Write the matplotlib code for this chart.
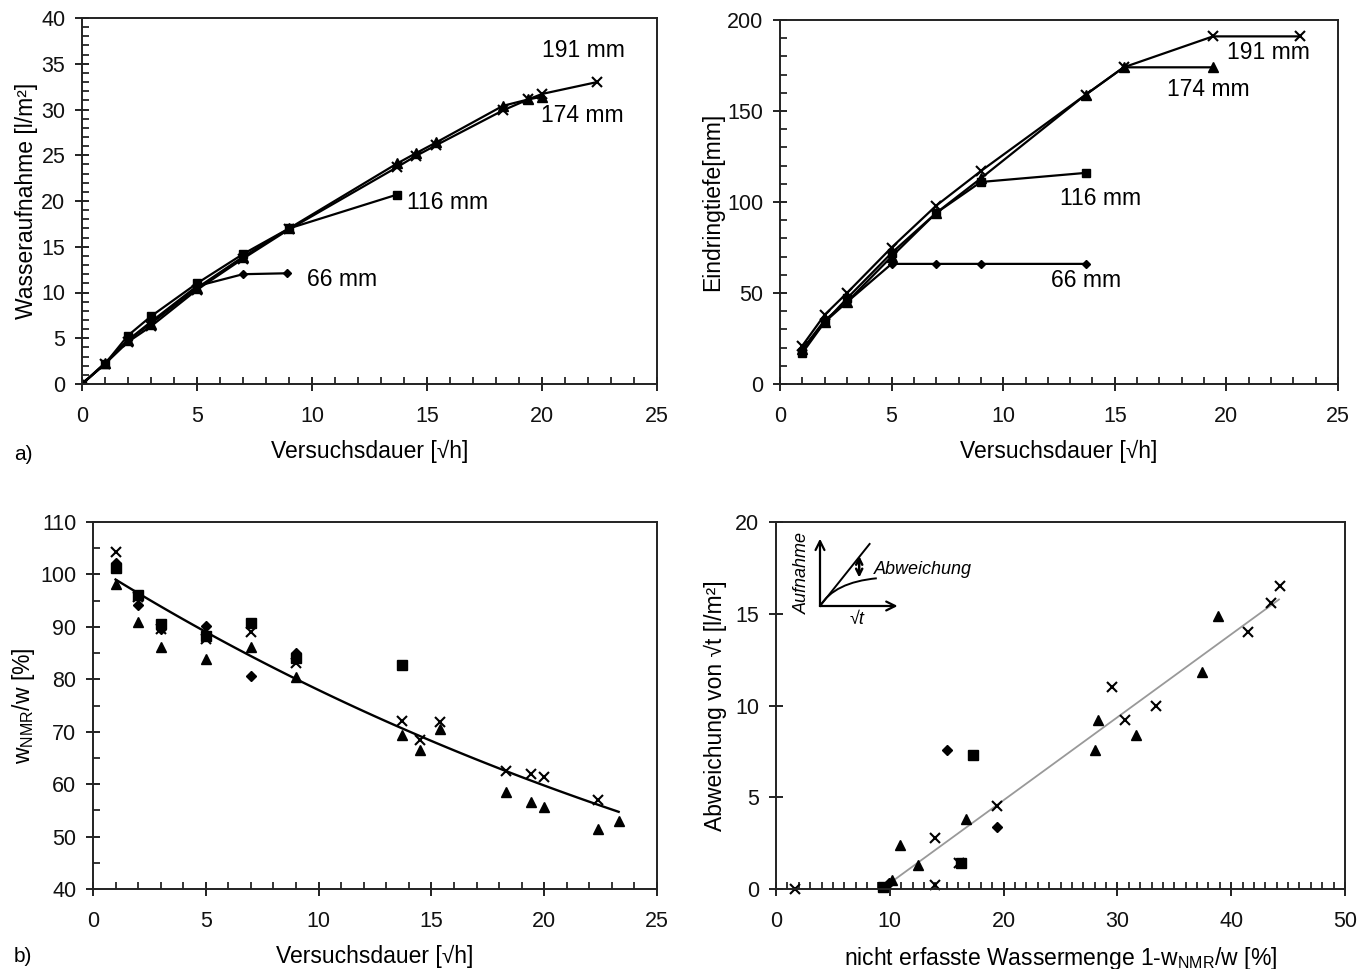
import numpy as np
import matplotlib
matplotlib.use("Agg")
import matplotlib.pyplot as plt
from matplotlib.ticker import MultipleLocator
from matplotlib.path import Path
from matplotlib.patches import PathPatch

plt.rcParams['font.family'] = ['Liberation Sans', 'DejaVu Sans']
plt.rcParams['mathtext.fontset'] = 'custom'
plt.rcParams['mathtext.rm'] = 'Liberation Sans'
plt.rcParams['mathtext.it'] = 'Liberation Sans:italic'

# --- a) links: Wasseraufnahme ueber Versuchsdauer ---
t_66 = [0, 1, 2, 3, 5, 7, 8.9]
w_66 = [0, 2.2, 4.8, 6.8, 10.7, 12.0, 12.1]
t_116 = [0, 1, 2, 3, 5, 7, 9, 13.7]
w_116 = [0, 2.2, 5.3, 7.4, 11.0, 14.2, 17.0, 20.7]
t_174 = [0, 1, 2, 3, 5, 7, 9, 13.7, 14.5, 15.4, 18.3, 19.4, 20]
w_174 = [0, 2.3, 4.8, 6.6, 10.5, 13.9, 17.0, 24.1, 25.2, 26.4, 30.4, 31.1, 31.4]
t_191 = [0, 1, 2, 3, 5, 7, 9, 13.7, 14.5, 15.4, 18.3, 19.4, 20, 22.4]
w_191 = [0, 2.2, 4.6, 6.3, 10.3, 13.7, 16.9, 23.7, 24.9, 26.1, 29.9, 31.1, 31.7, 33.0]

# --- a) rechts: Eindringtiefe ---
d_t_66 = [1, 2, 3, 5, 7, 9, 13.7]
d_66 = [19, 35, 45, 66, 66, 66, 66]
d_t_116 = [1, 2, 3, 5, 7, 9, 13.7]
d_116 = [17, 34, 47, 72, 94, 111, 116]
d_t_174 = [1, 2, 3, 5, 7, 9, 13.7, 15.4, 19.4]
d_174 = [19, 34, 45, 70, 94, 113, 159, 174, 174]
d_t_191 = [1, 2, 3, 5, 7, 9, 13.7, 15.4, 19.4, 23.3]
d_191 = [21, 38, 50, 75, 98, 117, 159, 174, 191, 191]

# --- b) links: wNMR/w ---
r_t_66 = [1, 2, 3, 5, 7, 9]
r_66 = [102.1, 94.1, 89.5, 90.1, 80.7, 85.1]
r_t_116 = [1, 2, 3, 5, 7, 9, 13.7]
r_116 = [101.3, 96.1, 90.6, 88.2, 90.8, 84.1, 82.8]
r_t_174 = [1, 2, 3, 5, 7, 9, 13.7, 14.5, 15.4, 18.3, 19.4, 20, 22.4, 23.3]
r_174 = [98.2, 90.9, 86.1, 83.9, 86.2, 80.5, 69.3, 66.6, 70.5, 58.5, 56.5, 55.7, 51.4, 53.0]
r_t_191 = [1, 2, 3, 5, 7, 9, 13.7, 14.5, 15.4, 18.3, 19.4, 20, 22.4]
r_191 = [104.2, 95.6, 89.5, 87.6, 89.0, 83.1, 72.1, 68.5, 71.9, 62.5, 61.9, 61.3, 57.0]
# Trendlinie (exponentiell) y = a*exp(b*x)
fit_a, fit_b = 101.7, -0.0266
fit_range = (1, 23.3)

# --- b) rechts: Abweichung ---
n_66 = [9.9, 15.0, 19.4]
a_66 = [0.3, 7.6, 3.4]
n_116 = [9.4, 16.3, 17.3]
a_116 = [0.1, 1.4, 7.3]
n_174 = [10.2, 10.9, 12.5, 16.7, 28.0, 28.3, 31.6, 37.4, 38.8]
a_174 = [0.5, 2.4, 1.3, 3.8, 7.6, 9.2, 8.4, 11.8, 14.9]
n_191 = [1.7, 14.0, 14.0, 16.1, 19.4, 29.5, 30.7, 33.4, 41.5, 43.5, 44.3]
a_191 = [0.0, 0.2, 2.8, 1.4, 4.5, 11.0, 9.2, 10.0, 14.0, 15.6, 16.5]
lin_m, lin_c = 0.452, -4.2
lin_range = (9.8, 44.2)

W, H = 1366, 969
fig = plt.figure(figsize=(W / 100, H / 100), dpi=100)


def px_axes(x0, x1, y_top, y_bot):
    return fig.add_axes([x0 / W, 1 - y_bot / H, (x1 - x0) / W, (y_bot - y_top) / H])


def style(ax, xmaj, xmin, ymaj, ymin):
    ax.xaxis.set_major_locator(MultipleLocator(xmaj))
    ax.xaxis.set_minor_locator(MultipleLocator(xmin))
    ax.yaxis.set_major_locator(MultipleLocator(ymaj))
    if ymin:
        ax.yaxis.set_minor_locator(MultipleLocator(ymin))
    ax.tick_params(which='major', direction='inout', length=10, width=1.3,
                   labelsize=15.5, colors='#111111')
    ax.tick_params(axis='x', which='major', pad=11)
    ax.tick_params(axis='y', which='major', pad=7)
    ax.tick_params(which='minor', direction='in', length=5, width=1.1)
    for s in ax.spines.values():
        s.set_linewidth(1.4)
        s.set_color('#222222')


fs = 16.5
ln = dict(color='black', lw=1.6)

# a) links
ax1 = px_axes(82, 657, 18, 384)
ax1.plot(t_66, w_66, marker='D', ms=4.5, **ln)
ax1.plot(t_116, w_116, marker='s', ms=6, **ln)
ax1.plot(t_174, w_174, marker='^', ms=6.5, **ln)
ax1.plot(t_191, w_191, marker='x', ms=7, mew=1.5, **ln)
ax1.set_xlim(0, 25)
ax1.set_ylim(0, 40)
style(ax1, 5, 1, 5, 1)
ax1.set_xlabel('Versuchsdauer [√h]', fontsize=fs, labelpad=9)
ax1.set_ylabel('Wasseraufnahme [l/m²]', fontsize=fs, labelpad=2)
ax1.text(21.8, 36.5, '191 mm', fontsize=fs, ha='center', va='center')
ax1.text(21.75, 29.3, '174 mm', fontsize=fs, ha='center', va='center')
ax1.text(15.9, 19.8, '116 mm', fontsize=fs, ha='center', va='center')
ax1.text(11.3, 11.4, '66 mm', fontsize=fs, ha='center', va='center')

# a) rechts
ax2 = px_axes(780, 1338, 20, 384)
ax2.plot(d_t_66, d_66, marker='D', ms=4.5, **ln)
ax2.plot(d_t_116, d_116, marker='s', ms=6, **ln)
ax2.plot(d_t_174, d_174, marker='^', ms=6.5, **ln)
ax2.plot(d_t_191, d_191, marker='x', ms=7, mew=1.5, **ln)
ax2.set_xlim(0, 25)
ax2.set_ylim(0, 200)
style(ax2, 5, 1, 50, 10)
ax2.set_xlabel('Versuchsdauer [√h]', fontsize=fs, labelpad=9)
ax2.set_ylabel('Eindringtiefe[mm]', fontsize=fs, labelpad=2)
ax2.text(21.9, 182, '191 mm', fontsize=fs, ha='center', va='center')
ax2.text(19.2, 162, '174 mm', fontsize=fs, ha='center', va='center')
ax2.text(14.35, 102, '116 mm', fontsize=fs, ha='center', va='center')
ax2.text(13.7, 57, '66 mm', fontsize=fs, ha='center', va='center')

# b) links
sc = dict(color='black', ls='none')
ax3 = px_axes(93, 657, 522, 889)
ax3.plot(r_t_66, r_66, marker='D', ms=5, **sc)
ax3.plot(r_t_116, r_116, marker='s', ms=6.5, **sc)
ax3.plot(r_t_174, r_174, marker='^', ms=7, **sc)
ax3.plot(r_t_191, r_191, marker='x', ms=7, mew=1.5, **sc)
xf = np.linspace(fit_range[0], fit_range[1], 100)
ax3.plot(xf, fit_a * np.exp(fit_b * xf), color='black', lw=1.7)
ax3.set_xlim(0, 25)
ax3.set_ylim(40, 110)
style(ax3, 5, 1, 10, 5)
ax3.set_xlabel('Versuchsdauer [√h]', fontsize=fs, labelpad=9)
ax3.set_ylabel('w$_{\\mathrm{NMR}}$/w [%]', fontsize=fs, labelpad=2)

# b) rechts
ax4 = px_axes(776, 1345, 522, 889)
ax4.plot(n_66, a_66, marker='D', ms=5, clip_on=False, **sc)
ax4.plot(n_116, a_116, marker='s', ms=6.5, clip_on=False, **sc)
ax4.plot(n_174, a_174, marker='^', ms=7, clip_on=False, **sc)
ax4.plot(n_191, a_191, marker='x', ms=7, mew=1.5, clip_on=False, **sc)
xl = np.array(lin_range)
ax4.plot(xl, lin_m * xl + lin_c, color='#999999', lw=1.3, zorder=1)
ax4.set_xlim(0, 50)
ax4.set_ylim(0, 20)
style(ax4, 10, 1, 5, None)
ax4.set_xlabel('nicht erfasste Wassermenge 1-w$_{\\mathrm{NMR}}$/w [%]', fontsize=fs, labelpad=9)
ax4.set_ylabel('Abweichung von √t [l/m²]', fontsize=fs, labelpad=6)

# Skizze im Diagramm rechts unten
ins = px_axes(820, 900, 540, 606)
ins.set_xlim(0, 1)
ins.set_ylim(0, 1)
ins.axis('off')
arr = dict(arrowstyle='->', color='black', lw=1.6, mutation_scale=16, shrinkA=0, shrinkB=0)
ins.annotate('', xy=(0, 1.02), xytext=(0, 0), arrowprops=arr, annotation_clip=False)
ins.annotate('', xy=(0.97, 0), xytext=(0, 0), arrowprops=arr, annotation_clip=False)
ins.plot([0, 0.62], [0, 0.94], color='black', lw=1.4, clip_on=False)
curve = Path([(0, 0), (0.18, 0.36), (0.71, 0.42)], [Path.MOVETO, Path.CURVE3, Path.CURVE3])
ins.add_patch(PathPatch(curve, fc='none', ec='black', lw=1.4, clip_on=False))
ins.annotate('', xy=(0.49, 0.76), xytext=(0.49, 0.43), annotation_clip=False,
             arrowprops=dict(arrowstyle='<->', color='black', lw=1.8,
                             mutation_scale=11, shrinkA=0, shrinkB=0))
ins.text(0.67, 0.56, 'Abweichung', style='italic', fontsize=13, va='center', ha='left')
ins.text(-0.22, 0.5, 'Aufnahme', style='italic', fontsize=13, rotation=90, va='center', ha='center')
ins.text(0.46, -0.21, '√t', style='italic', fontsize=13, va='center', ha='center')

fig.text(14 / W, 1 - 455 / H, 'a)', fontsize=15, va='center', ha='left')
fig.text(14 / W, 1 - 957 / H, 'b)', fontsize=15, va='center', ha='left')

fig.savefig('out.png', dpi=100)
